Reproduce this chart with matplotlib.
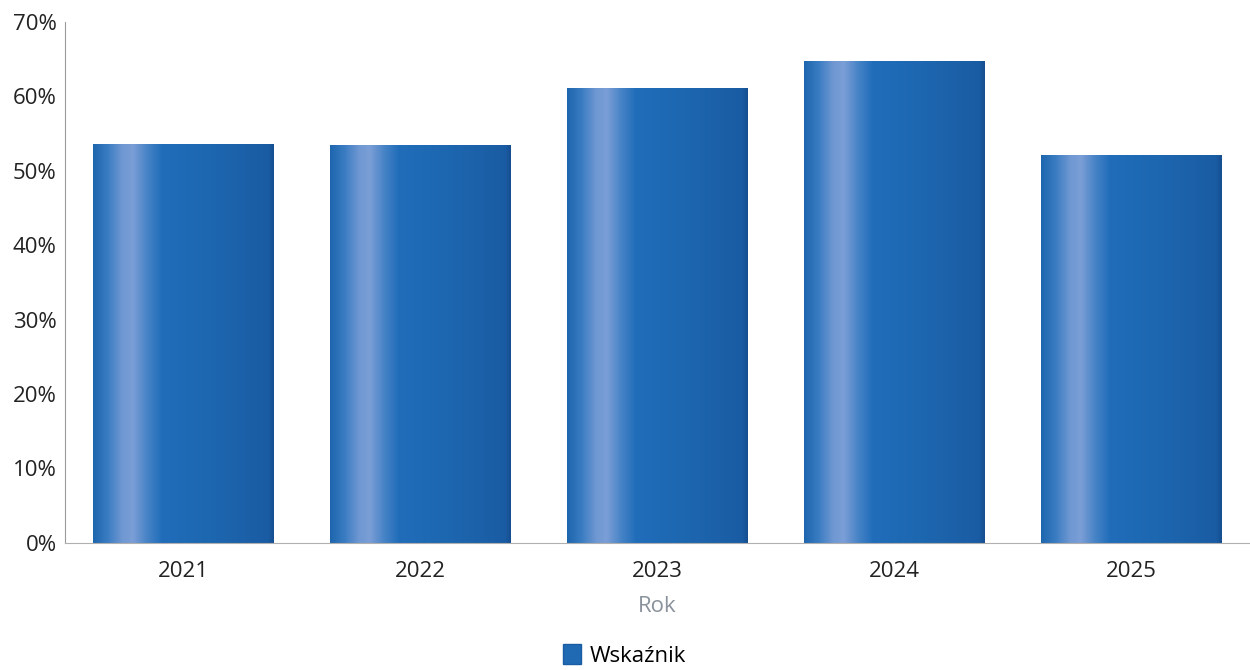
"""Bar chart: Wskaźnik by year, cylinder-style gradient bars."""

import matplotlib
matplotlib.use("Agg")
import matplotlib.pyplot as plt
import numpy as np
from matplotlib.colors import LinearSegmentedColormap
from matplotlib.patches import Patch
from matplotlib.ticker import FuncFormatter, MultipleLocator

years = ["2021", "2022", "2023", "2024", "2025"]
values = [53.6, 53.5, 61.1, 64.7, 52.1]
series_name = "Wskaźnik"
x_label = "Rok"

plt.rcParams["font.family"] = ["Open Sans", "DejaVu Sans"]

# horizontal shading across each bar: light streak near the left side
bar_cmap = LinearSegmentedColormap.from_list("cyl", [
    (0.00, "#1d66ae"),
    (0.08, "#3a7cc2"),
    (0.16, "#6f98d2"),
    (0.22, "#7b9ed6"),
    (0.30, "#4683c6"),
    (0.38, "#216dba"),
    (0.65, "#1d67b0"),
    (0.97, "#1a5ca3"),
    (1.00, "#164f90"),
])

fig = plt.figure(figsize=(12.5, 6.7), dpi=100)
ax = fig.add_axes([0.052, 0.19, 0.948, 0.777])

x = np.arange(len(years))
bars = ax.bar(x, values, width=0.76, color="none", edgecolor="none")

grad = np.linspace(0, 1, 256).reshape(1, -1)
for rect in bars:
    x0 = rect.get_x()
    ax.imshow(grad, extent=[x0, x0 + rect.get_width(), 0, rect.get_height()],
              aspect="auto", cmap=bar_cmap, interpolation="bicubic", zorder=2)

ax.set_xlim(-0.5, len(years) - 0.5)
ax.set_ylim(0, 70)
ax.set_xticks(x)
ax.set_xticklabels(years)
ax.yaxis.set_major_locator(MultipleLocator(10))
ax.yaxis.set_major_formatter(FuncFormatter(lambda v, _: f"{v:.0f}%"))

ax.tick_params(axis="both", length=0, labelsize=16, colors="#222222")
ax.tick_params(axis="x", pad=13)
ax.tick_params(axis="y", pad=6)

for side in ("top", "right"):
    ax.spines[side].set_visible(False)
ax.spines["left"].set_color("#9a9a9a")
ax.spines["left"].set_linewidth(0.8)
ax.spines["bottom"].set_color("#b0b0b0")
ax.spines["bottom"].set_linewidth(0.8)

ax.set_xlabel(x_label, fontsize=16, color="#8a929c", labelpad=10)

fig.legend(handles=[Patch(facecolor="#1f6ab2", edgecolor="#1a5ca3",
                          label=series_name)],
           loc="lower center", bbox_to_anchor=(0.5, -0.025), frameon=False,
           fontsize=16, handlelength=0.8, handleheight=1.0, handletextpad=0.4)

fig.savefig("out.png", dpi=100, facecolor="white")
